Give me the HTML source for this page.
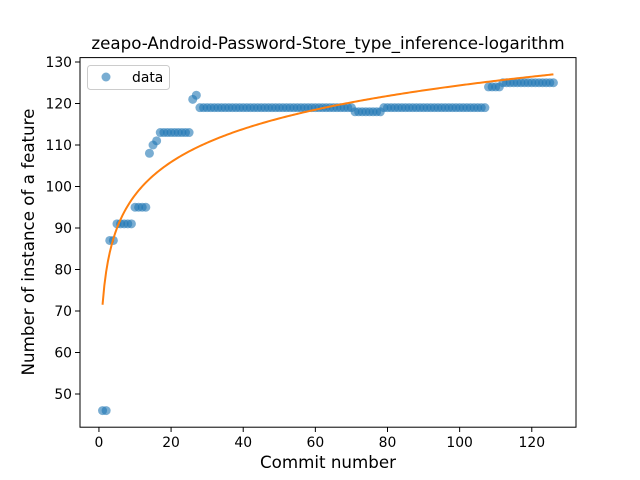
<!DOCTYPE html>
<html><head><meta charset="utf-8"><style>
body{margin:0;background:#fff}
svg{display:block;font-family:"DejaVu Sans","Liberation Sans",sans-serif}
</style></head><body>
<svg id="s" width="640" height="480" viewBox="0 0 640 480">
<rect width="640" height="480" fill="#fff"/>
<g id="pts"></g>
<polyline id="fit" fill="none" stroke="#ff7f0e" stroke-width="2"/>
<rect x="80" y="57.6" width="496" height="369.6" fill="none" stroke="#000" stroke-width="1"/>
<g id="ticks" stroke="#000" stroke-width="1"></g>
<g font-size="13.9" fill="#000" id="lab"></g>
<text x="328" y="49" font-size="16.7" text-anchor="middle">zeapo-Android-Password-Store_type_inference-logarithm</text>
<text x="328" y="468" font-size="16.7" text-anchor="middle">Commit number</text>
<text transform="translate(34,242) rotate(-90)" font-size="16.7" text-anchor="middle">Number of instance of a feature</text>
<rect x="87.5" y="65.5" width="82" height="24" rx="3" fill="#fff" fill-opacity="0.8" stroke="#ccc"/>
<circle cx="106" cy="77" r="4.5" fill="#1f77b4" fill-opacity="0.6"/>
<text x="132" y="82" font-size="13.9">data</text>
</svg>
<script>
var X=v=>80+(v+5.25)*3.607, Y=v=>394-(v-50)*4.15;
var d={};
function r(a,b,v){for(var i=a;i<=b;i++)d[i]=v;}
r(1,2,46);r(3,4,87);r(5,9,91);r(10,13,95);d[14]=108;d[15]=110;d[16]=111;r(17,25,113);d[26]=121;d[27]=122;
r(28,70,119);r(71,78,118);r(79,107,119);r(108,111,124);r(112,126,125);
var ns="http://www.w3.org/2000/svg",g=document.getElementById('pts');
for(var i=1;i<=126;i++){var c=document.createElementNS(ns,'circle');c.setAttribute('cx',X(i));c.setAttribute('cy',Y(d[i]));c.setAttribute('r',4.5);c.setAttribute('fill','#1f77b4');c.setAttribute('fill-opacity',0.6);g.appendChild(c);}
var p=[];for(var x=1;x<=126;x+=0.5)p.push(X(x)+','+Y(71.5+11.48*Math.log(x)));
document.getElementById('fit').setAttribute('points',p.join(' '));
var t=document.getElementById('ticks'),l=document.getElementById('lab');
function ln(a,b,c,e){var q=document.createElementNS(ns,'line');q.setAttribute('x1',a);q.setAttribute('y1',b);q.setAttribute('x2',c);q.setAttribute('y2',e);t.appendChild(q);}
function tx(x,y,s,an){var q=document.createElementNS(ns,'text');q.setAttribute('x',x);q.setAttribute('y',y);q.setAttribute('text-anchor',an);q.textContent=s;l.appendChild(q);}
for(var v=0;v<=120;v+=20){ln(X(v),427.2,X(v),432);tx(X(v),447,v,'middle');}
for(var v=50;v<=130;v+=10){ln(75,Y(v),80,Y(v));tx(72,Y(v)+5,v,'end');}
</script>
</body></html>
